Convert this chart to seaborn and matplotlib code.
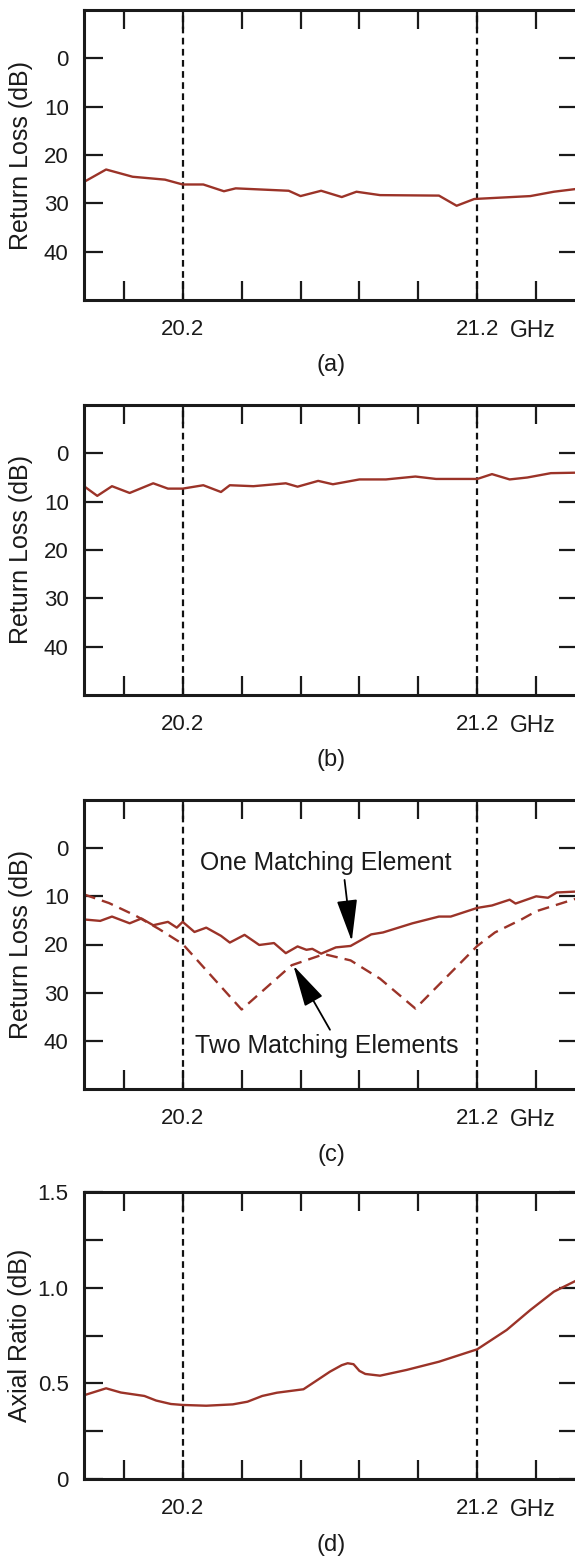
import matplotlib
matplotlib.use('Agg')
import matplotlib.pyplot as plt
import seaborn as sns

# panel (a): return loss, no matching
freq_a = [19.87, 19.94, 20.03, 20.14, 20.20, 20.27, 20.34, 20.38, 20.56, 20.60,
          20.67, 20.74, 20.79, 20.87, 21.07, 21.13, 21.19, 21.38, 21.46, 21.54]
rl_a = [25.4, 23.0, 24.5, 25.1, 26.1, 26.1, 27.5, 26.9, 27.4, 28.5,
        27.4, 28.7, 27.6, 28.3, 28.4, 30.5, 29.1, 28.5, 27.6, 27.0]

# panel (b)
freq_b = [19.865, 19.91, 19.96, 20.02, 20.10, 20.15, 20.20, 20.27, 20.33, 20.36,
          20.44, 20.55, 20.59, 20.66, 20.71, 20.80, 20.89, 20.99, 21.06, 21.20,
          21.25, 21.31, 21.37, 21.45, 21.54]
rl_b = [6.8, 8.8, 6.8, 8.2, 6.2, 7.3, 7.3, 6.6, 8.0, 6.6,
        6.8, 6.2, 6.9, 5.7, 6.4, 5.4, 5.4, 4.8, 5.3, 5.3,
        4.3, 5.4, 5.0, 4.1, 4.0]

# panel (c): one matching element (solid)
freq_c1 = [19.865, 19.92, 19.96, 20.02, 20.06, 20.10, 20.15, 20.18, 20.20, 20.24,
           20.28, 20.33, 20.36, 20.41, 20.46, 20.51, 20.55, 20.59, 20.62, 20.64,
           20.67, 20.72, 20.77, 20.84, 20.88, 20.98, 21.07, 21.11, 21.20, 21.25,
           21.31, 21.33, 21.40, 21.44, 21.47, 21.54]
rl_c1 = [14.8, 15.1, 14.2, 15.6, 14.6, 16.0, 15.3, 16.5, 15.3, 17.4,
         16.5, 18.2, 19.6, 18.0, 20.1, 19.7, 21.8, 20.4, 21.1, 20.9,
         21.9, 20.6, 20.3, 17.9, 17.5, 15.6, 14.2, 14.2, 12.4, 11.9,
         10.7, 11.5, 10.0, 10.3, 9.2, 9.0]

# panel (c): two matching elements (dashed)
freq_c2 = [19.865, 19.95, 20.04, 20.12, 20.20, 20.40, 20.57, 20.68, 20.77, 20.87,
           20.99, 21.20, 21.26, 21.35, 21.40, 21.54]
rl_c2 = [9.6, 11.4, 14.0, 16.8, 19.9, 33.5, 24.3, 22.0, 23.3, 27.1,
         33.3, 20.3, 17.5, 14.8, 13.1, 10.4]

# panel (d): axial ratio
freq_d = [19.87, 19.94, 19.99, 20.07, 20.11, 20.16, 20.20, 20.28, 20.37, 20.42,
          20.47, 20.52, 20.61, 20.66, 20.70, 20.74, 20.76, 20.78, 20.80, 20.82,
          20.87, 20.96, 21.07, 21.20, 21.30, 21.38, 21.46, 21.54]
ar_d = [0.44, 0.474, 0.452, 0.434, 0.41, 0.392, 0.387, 0.383, 0.39, 0.404,
        0.434, 0.451, 0.469, 0.52, 0.561, 0.595, 0.605, 0.60, 0.565, 0.549,
        0.54, 0.57, 0.613, 0.678, 0.779, 0.883, 0.979, 1.04]

x_ticks = [20.0, 20.2, 20.4, 20.6, 20.8, 21.0, 21.2, 21.4]
x_labels = ['', '20.2', '', '', '', '', '21.2', '']
band_edges = [20.2, 21.2]
rl_ticks = [0, 10, 20, 30, 40]
ar_ticks = [0, 0.5, 1.0, 1.5]
ar_labels = ['0', '0.5', '1.0', '1.5']
ar_minor = [0.25, 0.75, 1.25]

LINE = '#9b3328'
INK = '#1a1a1a'
W, H = 575, 1557

sns.set_style('ticks')
plt.rcParams['font.family'] = ['Liberation Sans', 'DejaVu Sans']

fig = plt.figure(figsize=(W / 100, H / 100), dpi=100)


def make_axes(top, bottom):
    # the right spine sits just past the right edge of the picture
    return fig.add_axes([84 / W, 1 - bottom / H, 494 / W, (bottom - top) / H])


def style(ax, letter, letter_y):
    ax.set_xlim(19.865, 21.542)
    ax.set_xticks(x_ticks)
    ax.set_xticklabels(x_labels)
    ax.tick_params(which='both', direction='in', length=14, width=1.6,
                   top=True, right=True, labelsize=16, colors=INK)
    ax.tick_params(axis='x', pad=14)
    ax.tick_params(axis='y', pad=11)
    for s in ax.spines.values():
        s.set_linewidth(2.2)
        s.set_color(INK)
    for f in band_edges:
        ax.axvline(f, color='#111111', lw=1.6, ls=(0, (3, 2)), zorder=1)
    ax.annotate('GHz', xy=(21.311, 0), xycoords=('data', 'axes fraction'),
                xytext=(0, -14), textcoords='offset points',
                fontsize=16.5, va='top', ha='left', color=INK)
    ax.text(0.5, letter_y, letter, transform=ax.transAxes, fontsize=17,
            ha='center', va='center', color=INK)
    ax.set_xlabel('')


def rl_axes(ax):
    ax.set_ylim(50, -10)
    ax.set_yticks(rl_ticks)
    ax.set_ylabel('Return Loss (dB)', fontsize=18, color=INK)
    ax.yaxis.set_label_coords(-0.103, 0.5)


ax_a = make_axes(10, 300)
sns.lineplot(x=freq_a, y=rl_a, ax=ax_a, color=LINE, lw=1.7, estimator=None)
rl_axes(ax_a)
style(ax_a, '(a)', -0.224)

ax_b = make_axes(405, 695)
sns.lineplot(x=freq_b, y=rl_b, ax=ax_b, color=LINE, lw=1.7, estimator=None)
rl_axes(ax_b)
style(ax_b, '(b)', -0.224)

ax_c = make_axes(800, 1089)
sns.lineplot(x=freq_c1, y=rl_c1, ax=ax_c, color=LINE, lw=1.7, estimator=None)
sns.lineplot(x=freq_c2, y=rl_c2, ax=ax_c, color=LINE, lw=1.7, estimator=None,
             linestyle=(0, (5, 3)))
rl_axes(ax_c)
style(ax_c, '(c)', -0.228)

ax_c.text(20.259, 3.1, 'One Matching Element', fontsize=17.8, va='center',
          ha='left', color=INK)
ax_c.text(20.242, 41.1, 'Two Matching Elements', fontsize=17.9, va='center',
          ha='left', color=INK)
head = '-|>,head_length=1.3,head_width=0.32'
ax_c.annotate('', xy=(20.774, 19.3), xytext=(20.7495, 6.6),
              arrowprops=dict(arrowstyle=head, color='black', lw=1.3,
                              mutation_scale=20, shrinkA=0, shrinkB=0))
ax_c.annotate('', xy=(20.576, 24.4), xytext=(20.70, 37.7),
              arrowprops=dict(arrowstyle=head, color='black', lw=1.3,
                              mutation_scale=20, shrinkA=0, shrinkB=0))

ax_d = make_axes(1192, 1479)
sns.lineplot(x=freq_d, y=ar_d, ax=ax_d, color=LINE, lw=1.7, estimator=None)
ax_d.set_ylim(0, 1.5)
ax_d.set_yticks(ar_ticks)
ax_d.set_yticklabels(ar_labels)
ax_d.set_yticks(ar_minor, minor=True)
ax_d.set_ylabel('Axial Ratio (dB)', fontsize=18, color=INK)
ax_d.yaxis.set_label_coords(-0.105, 0.5)
style(ax_d, '(d)', -0.23)

fig.savefig('out.png', dpi=100)
